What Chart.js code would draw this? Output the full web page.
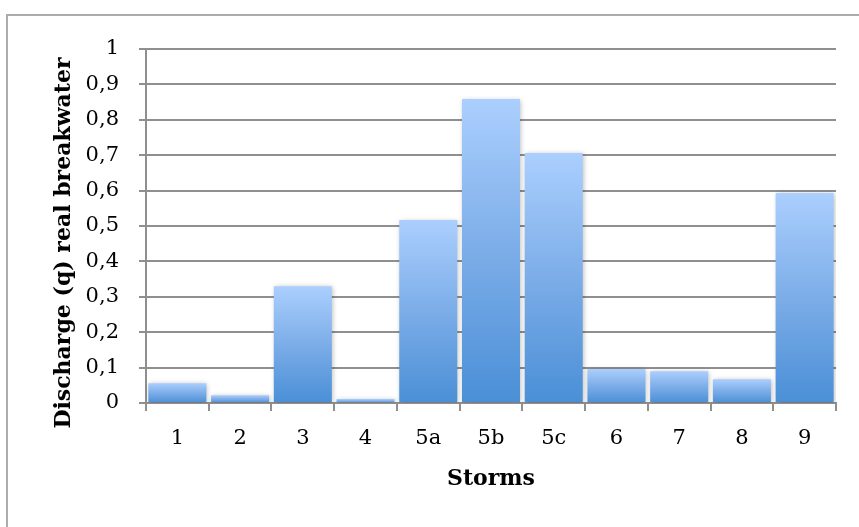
<!DOCTYPE html>
<html>
<head>
<meta charset="utf-8">
<script src="https://cdn.jsdelivr.net/npm/chart.js@4/dist/chart.umd.min.js"></script>
<style>
  html, body { margin: 0; padding: 0; background: #fff; }
  #wrap { position: relative; width: 859px; height: 527px; }
</style>
</head>
<body>
<div id="wrap"><canvas id="c" width="859" height="527"></canvas></div>
<script>
// Storm cases and the measured overtopping discharge for the real breakwater
const storms = ['1', '2', '3', '4', '5a', '5b', '5c', '6', '7', '8', '9'];
const discharge = [0.056, 0.022, 0.330, 0.011, 0.517, 0.859, 0.706, 0.096, 0.090, 0.067, 0.593];
const yTickLabels = ['0', '0,1', '0,2', '0,3', '0,4', '0,5', '0,6', '0,7', '0,8', '0,9', '1'];
const yTitle = 'Discharge (q) real breakwater';
const xTitle = 'Storms';

const FONT = '"DejaVu Serif", "Liberation Serif", serif';
const GRID = '#8f8f8f';

// Vertical gradient per bar: light blue at the top, deeper blue at the base
function barFill(ctx) {
  const chart = ctx.chart;
  const y = chart.scales && chart.scales.y;
  if (!chart.chartArea || !y) return '#7fb0ea';
  const v = ctx.raw;
  const top = y.getPixelForValue(v);
  const bottom = y.getPixelForValue(0);
  if (!isFinite(top) || Math.abs(bottom - top) < 1) return '#9cc4f6';
  const g = chart.ctx.createLinearGradient(0, top, 0, bottom);
  g.addColorStop(0, '#abcffe');
  g.addColorStop(0.5, '#7cade8');
  g.addColorStop(1, '#4a8fd6');
  return g;
}

// Outer frame around the chart
const framePlugin = {
  id: 'frame',
  beforeDraw(chart) {
    const c = chart.ctx;
    c.save();
    c.strokeStyle = '#acacac';
    c.lineWidth = 2;
    c.strokeRect(7, 15, 1000, 1000);
    c.restore();
  }
};

// Soft shadow behind the bars
const shadowPlugin = {
  id: 'barShadow',
  beforeDatasetsDraw(chart) {
    const c = chart.ctx;
    c.save();
    c.shadowColor = 'rgba(0,0,0,0.28)';
    c.shadowBlur = 5;
    c.shadowOffsetX = 1;
    c.shadowOffsetY = 1;
  },
  afterDatasetsDraw(chart) {
    chart.ctx.restore();
  }
};

// Rotated y-axis title
const yTitlePlugin = {
  id: 'yTitle',
  afterDraw(chart) {
    const c = chart.ctx;
    c.save();
    c.translate(64, 243);
    c.rotate(-Math.PI / 2);
    c.font = 'bold 22px ' + FONT;
    c.fillStyle = '#000';
    c.textAlign = 'center';
    c.textBaseline = 'middle';
    c.fillText(yTitle, 0, 0);
    c.restore();
  }
};

new Chart(document.getElementById('c'), {
  type: 'bar',
  data: {
    labels: storms,
    datasets: [{
      data: discharge,
      backgroundColor: barFill,
      borderWidth: 0,
      barPercentage: 0.925,
      categoryPercentage: 1
    }]
  },
  options: {
    responsive: false,
    animation: false,
    layout: { padding: { top: 49, right: 23, bottom: 0, left: 0 } },
    plugins: { legend: { display: false }, tooltip: { enabled: false } },
    scales: {
      x: {
        grid: {
          offset: true,
          drawOnChartArea: false,
          drawTicks: true,
          tickLength: 8,
          color: GRID,
          lineWidth: 2
        },
        border: { display: true, color: GRID, width: 2 },
        ticks: {
          color: '#000',
          font: { family: FONT, size: 21 },
          padding: 15,
          maxRotation: 0,
          autoSkip: false
        },
        title: {
          display: true,
          text: xTitle,
          color: '#000',
          font: { family: FONT, size: 22, weight: 'bold' },
          padding: { top: 0, bottom: 35 }
        },
        afterFit(scale) { scale.height = 124; }
      },
      y: {
        min: 0,
        max: 1,
        grid: {
          color: GRID,
          lineWidth: 2,
          drawTicks: true,
          tickLength: 7
        },
        border: { display: true, color: GRID, width: 2 },
        ticks: {
          stepSize: 0.1,
          color: '#000',
          font: { family: FONT, size: 21 },
          padding: 20,
          callback: (v, i) => yTickLabels[i]
        },
        afterFit(scale) { scale.width = 146; }
      }
    }
  },
  plugins: [framePlugin, shadowPlugin, yTitlePlugin]
});
</script>
</body>
</html>
